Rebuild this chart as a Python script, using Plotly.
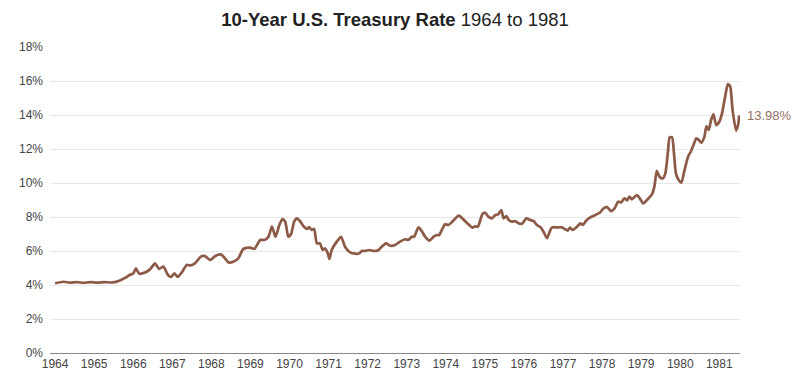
import plotly.graph_objects as go

years = [1964.00, 1964.21, 1964.38, 1964.56, 1964.72, 1964.90, 1965.08, 1965.25, 1965.48, 1965.66,
         1965.79, 1965.92, 1966.00, 1966.07, 1966.15, 1966.30, 1966.43, 1966.56, 1966.66, 1966.77,
         1966.89, 1966.97, 1967.05, 1967.14, 1967.24, 1967.37, 1967.46, 1967.58, 1967.73, 1967.84,
         1967.97, 1968.10, 1968.24, 1968.33, 1968.44, 1968.56, 1968.69, 1968.82, 1968.99, 1969.10,
         1969.25, 1969.36, 1969.46, 1969.55, 1969.64, 1969.74, 1969.82, 1969.89, 1969.97, 1970.04,
         1970.12, 1970.19, 1970.27, 1970.37, 1970.45, 1970.50, 1970.57, 1970.63, 1970.70, 1970.78,
         1970.85, 1970.91, 1970.98, 1971.02, 1971.08, 1971.21, 1971.32, 1971.42, 1971.55, 1971.68,
         1971.78, 1971.85, 1971.94, 1972.05, 1972.15, 1972.28, 1972.36, 1972.47, 1972.58, 1972.70,
         1972.83, 1972.96, 1973.04, 1973.13, 1973.19, 1973.30, 1973.39, 1973.47, 1973.58, 1973.69,
         1973.77, 1973.83, 1973.90, 1973.98, 1974.07, 1974.17, 1974.33, 1974.45, 1974.58, 1974.68,
         1974.75, 1974.82, 1974.94, 1975.01, 1975.09, 1975.18, 1975.27, 1975.34, 1975.42, 1975.48,
         1975.55, 1975.61, 1975.69, 1975.78, 1975.86, 1975.95, 1976.06, 1976.16, 1976.25, 1976.33,
         1976.43, 1976.50, 1976.59, 1976.66, 1976.72, 1976.84, 1976.97, 1977.06, 1977.12, 1977.17,
         1977.25, 1977.36, 1977.44, 1977.51, 1977.59, 1977.70, 1977.83, 1977.94, 1978.04, 1978.12,
         1978.23, 1978.32, 1978.41, 1978.49, 1978.57, 1978.64, 1978.70, 1978.76, 1978.89, 1978.98,
         1979.05, 1979.19, 1979.28, 1979.34, 1979.40, 1979.47, 1979.55, 1979.62, 1979.69, 1979.73,
         1979.79, 1979.84, 1979.89, 1979.96, 1980.03, 1980.11, 1980.20, 1980.27, 1980.34, 1980.41,
         1980.47, 1980.54, 1980.62, 1980.67, 1980.73, 1980.79, 1980.85, 1980.92, 1981.00, 1981.07,
         1981.15, 1981.22, 1981.28, 1981.34, 1981.43, 1981.48, 1981.51]

rates = [4.10, 4.19, 4.14, 4.17, 4.12, 4.17, 4.14, 4.17, 4.15, 4.27,
         4.42, 4.60, 4.67, 4.98, 4.67, 4.73, 4.92, 5.27, 4.95, 5.08,
         4.59, 4.47, 4.69, 4.47, 4.73, 5.18, 5.15, 5.27, 5.67, 5.70,
         5.47, 5.71, 5.80, 5.62, 5.33, 5.37, 5.57, 6.12, 6.20, 6.12,
         6.65, 6.65, 6.84, 7.43, 6.84, 7.53, 7.88, 7.73, 6.84, 7.00,
         7.73, 7.92, 7.75, 7.43, 7.30, 7.40, 7.24, 7.30, 6.45, 6.45,
         6.06, 6.15, 5.86, 5.53, 6.06, 6.55, 6.84, 6.25, 5.92, 5.84,
         5.86, 6.00, 6.00, 6.06, 6.00, 6.06, 6.25, 6.45, 6.31, 6.35,
         6.55, 6.69, 6.65, 6.84, 6.84, 7.39, 7.15, 6.84, 6.61, 6.84,
         6.94, 6.94, 7.24, 7.57, 7.53, 7.73, 8.08, 7.86, 7.57, 7.37,
         7.45, 7.43, 8.18, 8.25, 8.02, 7.92, 8.12, 8.15, 8.41, 7.92,
         8.05, 7.82, 7.73, 7.76, 7.63, 7.60, 7.92, 7.82, 7.76, 7.53,
         7.39, 7.14, 6.75, 7.14, 7.39, 7.39, 7.39, 7.27, 7.20, 7.37,
         7.24, 7.43, 7.63, 7.53, 7.78, 7.98, 8.12, 8.25, 8.51, 8.60,
         8.35, 8.51, 8.90, 8.86, 9.10, 8.98, 9.20, 9.04, 9.29, 9.04,
         8.80, 9.10, 9.35, 9.80, 10.71, 10.37, 10.27, 10.57, 11.94, 12.69,
         12.69, 11.75, 10.57, 10.18, 10.02, 10.76, 11.55, 11.84, 12.24, 12.63,
         12.55, 12.37, 12.73, 13.33, 13.12, 13.71, 14.06, 13.41, 13.60, 14.10,
         15.08, 15.82, 15.67, 14.29, 13.08, 13.41, 13.98]

tick_years = list(range(1964, 1982))
tick_labels = [str(y) for y in tick_years]
y_ticks = list(range(0, 19, 2))
y_labels = [f"{v}%" for v in y_ticks]

last_label = "13.98%"
line_color = "#8c5a47"

fig = go.Figure()
fig.add_trace(go.Scatter(
    x=years, y=rates, mode="lines",
    line=dict(color=line_color, width=2.7, shape="spline", smoothing=0.6),
    hoverinfo="skip", showlegend=False,
))

fig.add_annotation(
    x=years[-1], y=rates[-1], xref="x", yref="y",
    text=last_label, showarrow=False, xanchor="left", yanchor="middle",
    xshift=6, font=dict(family="Liberation Sans, Arial, sans-serif", size=13, color="#94705f"),
)

# the page body has an 8px default margin, so shift margins to compensate
fig.update_layout(
    width=800, height=384,
    margin=dict(l=42, r=68, t=39, b=39, autoexpand=False),
    paper_bgcolor="white", plot_bgcolor="white",
    title=dict(
        text="<b>10-Year U.S. Treasury Rate</b> 1964 to 1981",
        x=0.5, xanchor="center", xref="paper",
        y=1 - 12 / 384, yref="container", yanchor="middle",
        font=dict(family="Liberation Sans, Arial, sans-serif", size=18.5, color="#222222"),
    ),
    font=dict(family="Liberation Sans, Arial, sans-serif", size=12, color="#444444"),
)

fig.update_xaxes(
    range=[1963.87, 1981.53],
    tickmode="array", tickvals=tick_years, ticktext=tick_labels,
    showgrid=False, zeroline=False,
    showline=True, linecolor="#888888", linewidth=1,
    ticks="", tickfont=dict(size=12, color="#444444"),
)
fig.update_yaxes(
    range=[0, 18],
    tickmode="array", tickvals=y_ticks, ticktext=y_labels,
    showgrid=True, gridcolor="#e8e8e8", gridwidth=1,
    zeroline=False, showline=False, ticks="", ticklabelstandoff=6,
    tickfont=dict(size=12, color="#444444"),
)

fig.write_html("out.html")
